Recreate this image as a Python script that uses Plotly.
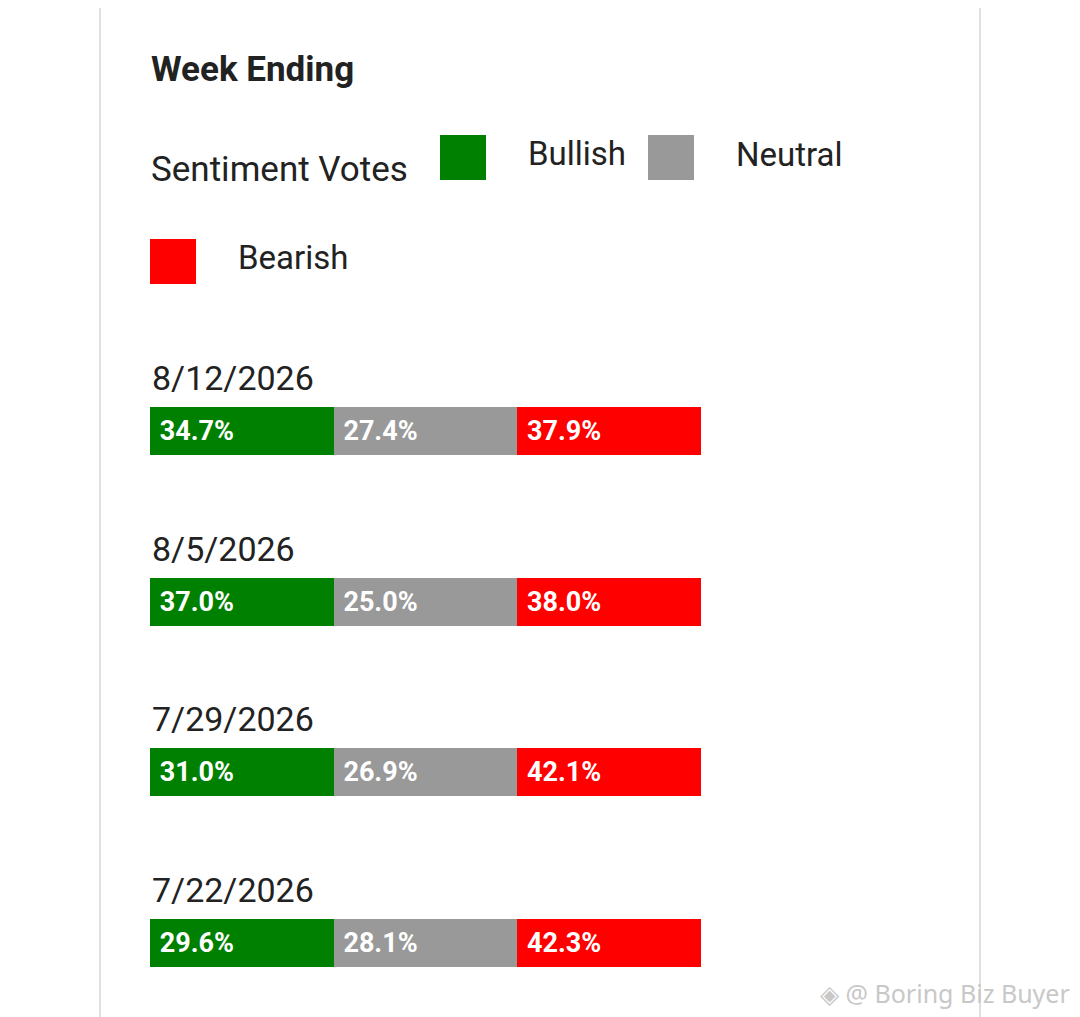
import plotly.graph_objects as go

weeks = ["8/12/2026", "8/5/2026", "7/29/2026", "7/22/2026"]
bullish = [34.7, 37.0, 31.0, 29.6]
neutral = [27.4, 25.0, 26.9, 28.1]
bearish = [37.9, 38.0, 42.1, 42.3]
series_names = ["Bullish", "Neutral", "Bearish"]
series_colors = ["#008000", "#999999", "#ff0000"]

OFF = 8  # page body margin
W, H = 1080 - OFF, 1017 - OFF
L, R = 150 - OFF, 701 - OFF  # bar area in figure pixels


def px(x):
    return (x - OFF - L) / (R - L)


def py(y):
    return 1 - (y - OFF) / H


rows = list(range(len(weeks)))
fig = go.Figure()
for name, vals, color in zip(series_names, [bullish, neutral, bearish], series_colors):
    fig.add_trace(go.Bar(
        y=rows,
        x=[1] * len(rows),  # every segment drawn as an equal third, like the source
        orientation="h",
        width=0.2815,
        name=name,
        marker=dict(color=color, line=dict(width=0)),
        text=[f"{v:.1f}%" for v in vals],
        textposition="inside",
        insidetextanchor="start",
        texttemplate=" %{text}",
        textfont=dict(family="Roboto", size=27, color="white", weight="bold"),
        constraintext="none",
        hoverinfo="skip",
        showlegend=False,
    ))

dark = "#222222"
ann = []
ann.append(dict(text="<b>Week Ending</b>", x=px(149), y=py(69), xref="paper", yref="paper",
                xanchor="left", yanchor="middle", showarrow=False,
                font=dict(family="Roboto", size=35, color=dark)))
ann.append(dict(text="Sentiment Votes", x=px(149), y=py(169), xref="paper", yref="paper",
                xanchor="left", yanchor="middle", showarrow=False,
                font=dict(family="Roboto", size=35, color=dark)))

# manual legend: square + label
legend_pos = [(440, 135, 526, 153), (648, 135, 734, 154), (150, 239, 236, 258)]
shapes = []
for name, color, (sx, sy, tx, ty) in zip(series_names, series_colors, legend_pos):
    shapes.append(dict(type="rect", xref="paper", yref="paper",
                       x0=px(sx), x1=px(sx + 46), y0=py(sy), y1=py(sy + 45),
                       fillcolor=color, line=dict(width=0)))
    ann.append(dict(text=name, x=px(tx), y=py(ty), xref="paper", yref="paper",
                    xanchor="left", yanchor="middle", showarrow=False,
                    font=dict(family="Roboto", size=33, color=dark)))

for i, wk in enumerate(weeks):
    ann.append(dict(text=wk, x=0, y=i, xref="x", yref="y", yshift=53,
                    xanchor="left", yanchor="middle", showarrow=False,
                    font=dict(family="Roboto", size=34, color=dark)))

# card edges
for xp in (100, 980):
    shapes.append(dict(type="line", xref="paper", yref="paper", x0=px(xp), x1=px(xp),
                       y0=0, y1=1.02, line=dict(color="#e0e0e0", width=2)))

ann.append(dict(text="◈ @ Boring Biz Buyer", x=px(1072), y=py(993), xref="paper", yref="paper",
                xanchor="right", yanchor="middle", showarrow=False,
                font=dict(family="Noto Sans", size=25, color="#c8c8c8")))

fig.update_layout(
    width=W, height=H,
    margin=dict(l=L, r=W - R, t=0, b=0),
    barmode="stack",
    paper_bgcolor="white", plot_bgcolor="white",
    xaxis=dict(range=[0, 3], visible=False, fixedrange=True),
    yaxis=dict(range=[(H - 423) / 170.5, -423 / 170.5], visible=False, fixedrange=True),
    annotations=ann,
    shapes=shapes,
    showlegend=False,
)

fig.write_html("out.html")
